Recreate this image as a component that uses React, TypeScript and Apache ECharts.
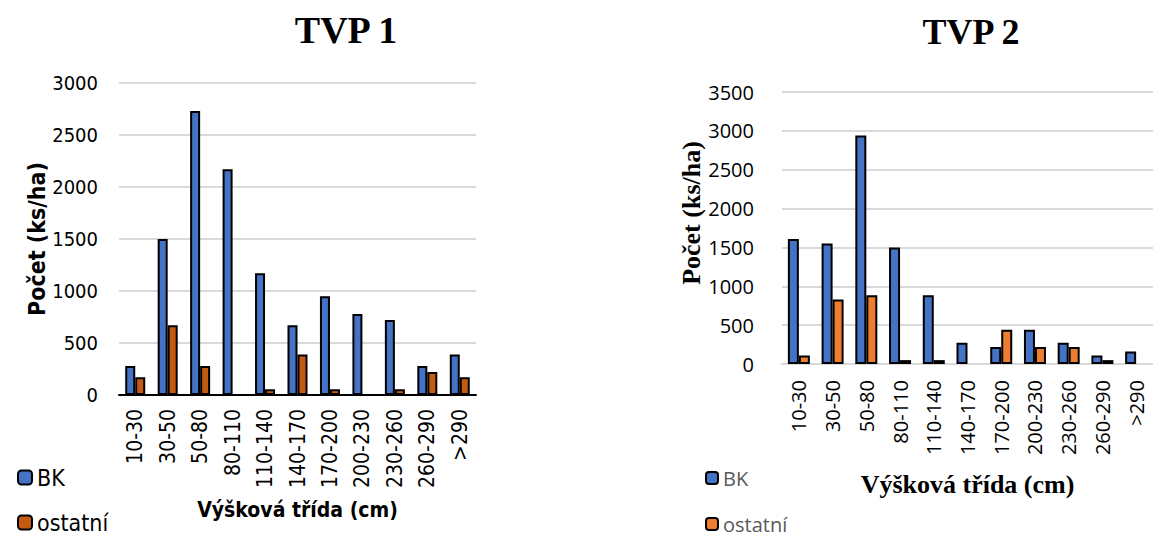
import React, { useEffect, useRef } from "react";
import * as echarts from "echarts";

const categories = ["10-30", "30-50", "50-80", "80-110", "110-140", "140-170", "170-200", "200-230", "230-260", "260-290", ">290"];
const tvp1BK = [280, 1500, 2730, 2170, 1170, 670, 950, 780, 720, 280, 390];
const tvp1Ostatni = [170, 670, 280, 0, 55, 390, 55, 0, 55, 220, 170];
const tvp2BK = [1610, 1550, 2940, 1500, 885, 275, 220, 440, 275, 110, 160];
const tvp2Ostatni = [110, 830, 885, 50, 50, 0, 440, 220, 220, 50, 0];
const seriesNames = ["BK", "ostatní"];
const titles = ["TVP 1", "TVP 2"];
const yAxisName = "Počet (ks/ha)";
const xAxisName = "Výšková třída (cm)";

const BLUE = "#4472C4";
const ORANGE1 = "#C55A11";
const ORANGE2 = "#ED7D31";
const SANS1 = "'DejaVu Sans Condensed', 'Roboto Condensed', 'Liberation Sans', sans-serif";
const SANS2 = "'Open Sans', 'Noto Sans', sans-serif";
const SERIF = "'Liberation Serif', 'DejaVu Serif', serif";

const noZero = (arr: number[]) => arr.map((v) => (v === 0 ? "-" : v));
const plain = (v: number) => String(v);

export default function App() {
  const ref = useRef<HTMLDivElement>(null);
  useEffect(() => {
    if (!ref.current) return;
    const chart = echarts.init(ref.current, null, { renderer: "svg" });
    const barBorder = { borderColor: "#000", borderWidth: 2 };
    chart.setOption({
      animation: false,
      backgroundColor: "#fff",
      title: [
        { text: titles[0], left: 341, top: 6, textAlign: "center", textStyle: { fontFamily: SERIF, fontWeight: "bold", fontSize: 38, color: "#000" } },
        { text: titles[1], left: 966, top: 9, textAlign: "center", textStyle: { fontFamily: SERIF, fontWeight: "bold", fontSize: 36, color: "#000" } },
      ],
      legend: [
        {
          orient: "vertical", left: 12, top: 461, height: 90, itemWidth: 14, itemHeight: 14, itemGap: 22,
          textStyle: { fontFamily: SANS1, fontSize: 23, color: "#000" },
          data: [
            { name: seriesNames[0], itemStyle: { color: BLUE, ...barBorder } },
            { name: seriesNames[1], itemStyle: { color: ORANGE1, ...barBorder } },
          ],
        },
        {
          orient: "vertical", left: 700, top: 463, height: 90, itemWidth: 12, itemHeight: 12, itemGap: 26,
          textStyle: { fontFamily: SANS2, fontSize: 20, color: "#595959" },
          data: [
            { name: seriesNames[0], itemStyle: { color: BLUE, ...barBorder } },
            { name: seriesNames[1], itemStyle: { color: ORANGE2, ...barBorder } },
          ],
        },
      ],
      grid: [
        { left: 119, top: 83, width: 357, height: 312 },
        { left: 782, top: 92, width: 381, height: 272 },
      ],
      xAxis: [
        {
          type: "category", gridIndex: 0, data: categories,
          axisLine: { lineStyle: { color: "#000", width: 2 } }, axisTick: { show: false },
          axisLabel: { rotate: 90, margin: 14, interval: 0, fontFamily: SANS1, fontSize: 21, color: "#000" },
          name: xAxisName, nameLocation: "middle", nameGap: 104,
          nameTextStyle: { fontFamily: SANS1, fontWeight: "bold", fontSize: 21, color: "#000" },
        },
        {
          type: "category", gridIndex: 1, data: categories,
          axisLine: { lineStyle: { color: "#d9d9d9", width: 2 } }, axisTick: { show: false },
          axisLabel: { rotate: 90, margin: 16, interval: 0, fontFamily: SANS2, fontSize: 20, color: "#000" },
          name: xAxisName, nameLocation: "middle", nameGap: 107,
          nameTextStyle: { fontFamily: SERIF, fontWeight: "bold", fontSize: 26, color: "#000" },
        },
      ],
      yAxis: [
        {
          type: "value", gridIndex: 0, min: 0, max: 3000, interval: 500,
          axisLine: { show: false }, axisTick: { show: false },
          splitLine: { lineStyle: { color: "#d9d9d9", width: 2 } },
          axisLabel: { margin: 21, fontFamily: SANS1, fontSize: 20, color: "#000", formatter: plain },
          name: yAxisName, nameLocation: "middle", nameGap: 57,
          nameTextStyle: { fontFamily: SANS1, fontWeight: "bold", fontSize: 23, color: "#000" },
        },
        {
          type: "value", gridIndex: 1, min: 0, max: 3500, interval: 500,
          axisLine: { show: false }, axisTick: { show: false },
          splitLine: { lineStyle: { color: "#d9d9d9", width: 2 } },
          axisLabel: { margin: 28, fontFamily: SANS2, fontSize: 20, color: "#000", formatter: plain },
          name: yAxisName, nameLocation: "middle", nameGap: 73,
          nameTextStyle: { fontFamily: SERIF, fontWeight: "bold", fontSize: 26, color: "#000", padding: [0, 0, 0, 30] },
        },
      ],
      series: [
        { name: seriesNames[0], type: "bar", xAxisIndex: 0, yAxisIndex: 0, data: noZero(tvp1BK), barWidth: 10, barGap: "0%", itemStyle: { color: BLUE, ...barBorder } },
        { name: seriesNames[1], type: "bar", xAxisIndex: 0, yAxisIndex: 0, data: noZero(tvp1Ostatni), barWidth: 10, barGap: "0%", itemStyle: { color: ORANGE1, ...barBorder } },
        { name: seriesNames[0], type: "bar", xAxisIndex: 1, yAxisIndex: 1, data: noZero(tvp2BK), barWidth: 11, barGap: "0%", itemStyle: { color: BLUE, ...barBorder } },
        { name: seriesNames[1], type: "bar", xAxisIndex: 1, yAxisIndex: 1, data: noZero(tvp2Ostatni), barWidth: 11, barGap: "0%", itemStyle: { color: ORANGE2, ...barBorder } },
      ],
    });
    return () => chart.dispose();
  }, []);
  return <div ref={ref} style={{ position: "fixed", left: 0, top: 0, width: 1153, height: 538 }} />;
}
